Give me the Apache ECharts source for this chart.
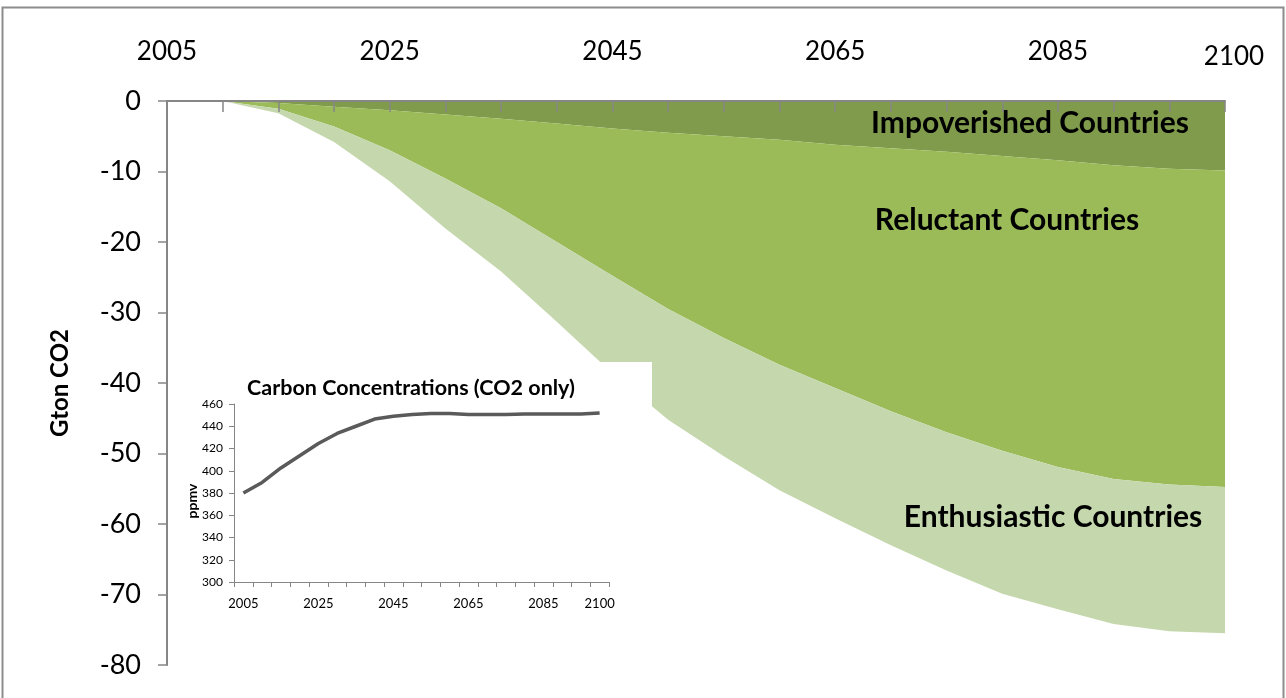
<!DOCTYPE html>
<html>
<head>
<meta charset="utf-8">
<script src="https://cdn.jsdelivr.net/npm/echarts@6/dist/echarts.min.js"></script>
<style>
html,body{margin:0;padding:0;background:#fff;}
#chart{width:1286px;height:698px;}
</style>
</head>
<body>
<div id="chart"></div>
<script>
// ---- Data ----
const years = ['2005','2010','2015','2020','2025','2030','2035','2040','2045','2050','2055','2060','2065','2070','2075','2080','2085','2090','2095','2100'];
const impoverished = [0,0,-0.3,-0.8,-1.3,-1.9,-2.5,-3.2,-3.9,-4.5,-5.0,-5.5,-6.2,-6.7,-7.2,-7.8,-8.4,-9.1,-9.6,-9.85];
const reluctant = [0,0,-0.8,-2.8,-5.7,-9.1,-12.7,-16.8,-20.9,-25.0,-28.6,-31.9,-34.5,-37.3,-39.8,-41.8,-43.5,-44.5,-44.8,-44.9];
const enthusiastic = [0,0,-0.65,-2.2,-4.4,-7.1,-9.0,-11.3,-13.8,-15.7,-16.8,-17.8,-18.5,-19.0,-19.6,-20.3,-20.2,-20.6,-20.8,-20.75];
const insetYears = years;
const concentrations = [380,389.5,402.5,413.5,424.5,433.5,440,446.5,449,450.5,451.5,451.5,450.5,450.5,450.5,451,451,451,451,452];
const mainYTicks = {min:-80, max:0, interval:10};
const insetYTicks = {min:300, max:460, interval:20};
const areaLabels = ['Impoverished Countries','Reluctant Countries','Enthusiastic Countries'];

const FONT = 'Lato, "Open Sans", sans-serif';
const GRAY = '#868686';
const chart = echarts.init(document.getElementById('chart'), null, {renderer:'canvas'});

const lastIdx = years.length - 1;
const showLabel = (i) => i % 4 === 0 || i === lastIdx;

const option = {
  backgroundColor:'#fff',
  animation:false,
  grid:[
    {left:167, right:61, top:101, bottom:33},
    {left:234, width:375, top:404, height:178}
  ],
  xAxis:[
    {gridIndex:0, type:'category', position:'top', data:years, boundaryGap:false, z:10,
     axisLine:{lineStyle:{color:GRAY, width:2}},
     axisTick:{show:true, inside:true, interval:0, length:11, lineStyle:{color:GRAY, width:1.5}},
     axisLabel:{interval:(i)=>showLabel(i), margin:36, color:'#000', fontSize:26, fontFamily:FONT,
       formatter:(v, i)=> i === lastIdx ? '{last|' + v + '}' : v,
       rich:{last:{fontSize:26, fontFamily:FONT, color:'#000', padding:[0,0,-5,18]}}},
     splitLine:{show:false}},
    {gridIndex:1, type:'category', data:insetYears, boundaryGap:true, z:12,
     axisLine:{lineStyle:{color:GRAY, width:1}},
     axisTick:{show:true, interval:0, length:5, lineStyle:{color:GRAY}},
     axisLabel:{interval:(i)=>showLabel(i), margin:15, color:'#000', fontSize:13, fontFamily:FONT},
     splitLine:{show:false}}
  ],
  yAxis:[
    {gridIndex:0, type:'value', min:mainYTicks.min, max:mainYTicks.max, interval:mainYTicks.interval, z:10,
     axisLine:{show:true, lineStyle:{color:GRAY, width:2}},
     axisTick:{show:true, length:9, lineStyle:{color:GRAY, width:1.5}},
     axisLabel:{margin:26, color:'#000', fontSize:27, fontFamily:FONT},
     splitLine:{show:false}},
    {gridIndex:1, type:'value', min:insetYTicks.min, max:insetYTicks.max, interval:insetYTicks.interval, z:12,
     axisLine:{show:true, lineStyle:{color:GRAY, width:1}},
     axisTick:{show:true, length:5, lineStyle:{color:GRAY}},
     axisLabel:{margin:11, color:'#000', fontSize:12, fontFamily:FONT},
     splitLine:{show:false}}
  ],
  series:[
    {name:areaLabels[0], type:'line', xAxisIndex:0, yAxisIndex:0, stack:'total', data:impoverished,
     symbol:'none', lineStyle:{width:0}, areaStyle:{color:'#7F9B4B', opacity:1}, itemStyle:{color:'#7F9B4B'}, z:2},
    {name:areaLabels[1], type:'line', xAxisIndex:0, yAxisIndex:0, stack:'total', data:reluctant,
     symbol:'none', lineStyle:{width:0}, areaStyle:{color:'#9BBB59', opacity:1}, itemStyle:{color:'#9BBB59'}, z:2},
    {name:areaLabels[2], type:'line', xAxisIndex:0, yAxisIndex:0, stack:'total', data:enthusiastic,
     symbol:'none', lineStyle:{width:0}, areaStyle:{color:'#C5D7AC', opacity:1}, itemStyle:{color:'#C5D7AC'}, z:2},
    {name:'CO2', type:'line', xAxisIndex:1, yAxisIndex:1, data:concentrations,
     symbol:'none', lineStyle:{color:'#5a5a5a', width:3.5}, z:12}
  ],
  graphic:[
    {type:'rect', z:5, shape:{x:172, y:362, width:480, height:262}, style:{fill:'#fff'}},
    {type:'rect', z:1, shape:{x:2.5, y:7.5, width:1281, height:700}, style:{fill:null, stroke:'#8c8c8c', lineWidth:2}},
    {type:'text', z:20, x:1030, y:123, style:{text:areaLabels[0], font:'bold 30px '+FONT, fill:'#000', textAlign:'center', textVerticalAlign:'middle'}},
    {type:'text', z:20, x:1007, y:220, style:{text:areaLabels[1], font:'bold 30px '+FONT, fill:'#000', textAlign:'center', textVerticalAlign:'middle'}},
    {type:'text', z:20, x:1053, y:517, style:{text:areaLabels[2], font:'bold 30px '+FONT, fill:'#000', textAlign:'center', textVerticalAlign:'middle'}},
    {type:'text', z:20, x:60, y:383, rotation:Math.PI/2, style:{text:'Gton CO2', font:'bold 24px '+FONT, fill:'#000', textAlign:'center', textVerticalAlign:'middle'}},
    {type:'text', z:20, x:411, y:388, style:{text:'Carbon Concentrations (CO2 only)', font:'bold 21.5px '+FONT, fill:'#000', textAlign:'center', textVerticalAlign:'middle'}},
    {type:'text', z:20, x:192, y:501, rotation:Math.PI/2, style:{text:'ppmv', font:'bold 14px '+FONT, fill:'#000', textAlign:'center', textVerticalAlign:'middle'}}
  ]
};
chart.setOption(option);
</script>
</body>
</html>
